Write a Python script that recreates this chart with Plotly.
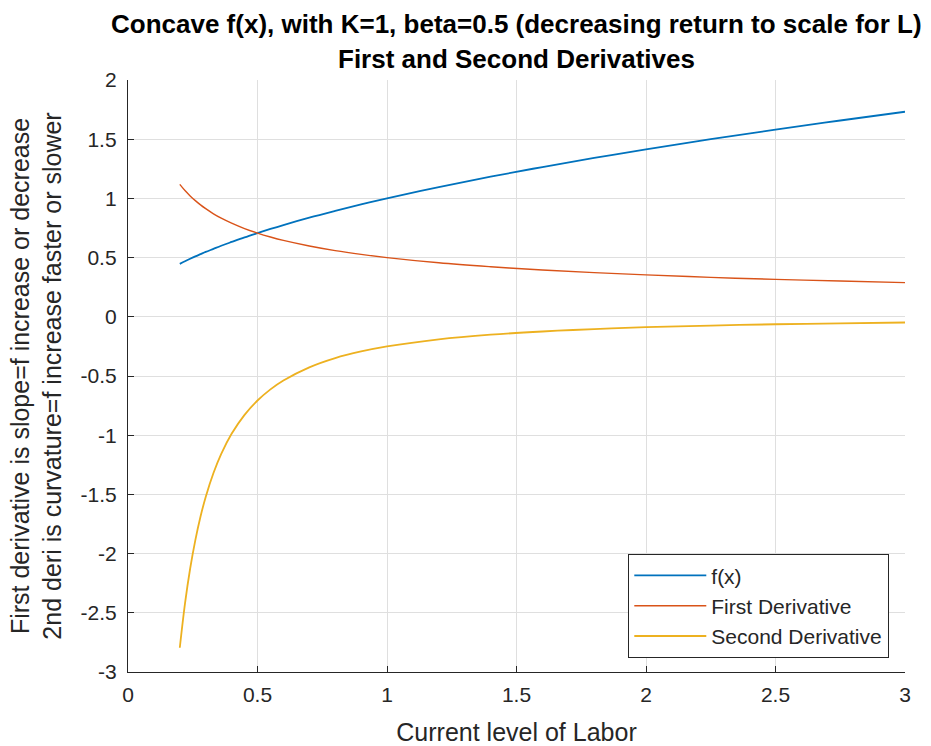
import plotly.graph_objects as go

# Labor levels and the curves sampled at them
labor = [0.2, 0.22, 0.24, 0.26, 0.28, 0.3, 0.33, 0.36, 0.4, 0.45, 0.5, 0.55, 0.6,
         0.7, 0.8, 0.9, 1.0, 1.2, 1.4, 1.6, 1.8, 2.0, 2.25, 2.5, 2.75, 3.0]
f_vals = [0.447, 0.469, 0.490, 0.510, 0.529, 0.548, 0.574, 0.600, 0.632, 0.671, 0.707, 0.742, 0.775,
          0.837, 0.894, 0.949, 1.000, 1.095, 1.183, 1.265, 1.342, 1.414, 1.500, 1.581, 1.658, 1.732]
first_deriv = [1.118, 1.066, 1.021, 0.981, 0.945, 0.913, 0.870, 0.833, 0.791, 0.745, 0.707, 0.674, 0.645,
               0.598, 0.559, 0.527, 0.500, 0.456, 0.423, 0.395, 0.373, 0.354, 0.333, 0.316, 0.302, 0.289]
second_deriv = [-2.795, -2.423, -2.126, -1.886, -1.687, -1.521, -1.319, -1.157, -0.988, -0.828, -0.707, -0.613, -0.538,
                -0.427, -0.349, -0.293, -0.250, -0.190, -0.151, -0.124, -0.104, -0.088, -0.074, -0.063, -0.055, -0.048]

x_ticks = [0, 0.5, 1, 1.5, 2, 2.5, 3]
x_tick_labels = ["0", "0.5", "1", "1.5", "2", "2.5", "3"]
y_ticks = [-3, -2.5, -2, -1.5, -1, -0.5, 0, 0.5, 1, 1.5, 2]
y_tick_labels = ["-3", "-2.5", "-2", "-1.5", "-1", "-0.5", "0", "0.5", "1", "1.5", "2"]

title_lines = ["Concave f(x), with K=1, beta=0.5 (decreasing return to scale for L)",
               "First and Second Derivatives"]

FONT = "Liberation Sans, Arial, Helvetica, sans-serif"
AX = "#262626"

fig = go.Figure()
fig.add_trace(go.Scatter(x=labor, y=f_vals, mode="lines", name="f(x)",
                         line=dict(color="#0072BD", width=1.8, shape="spline")))
fig.add_trace(go.Scatter(x=labor, y=first_deriv, mode="lines", name="First Derivative",
                         line=dict(color="#D95319", width=1.4, shape="spline")))
fig.add_trace(go.Scatter(x=labor, y=second_deriv, mode="lines", name="Second Derivative",
                         line=dict(color="#EDB120", width=1.8, shape="spline")))

# two-line bold title, centred over the axes
for text, ypos in zip(title_lines, [1.095, 1.035]):
    fig.add_annotation(text="<b>" + text + "</b>", xref="paper", yref="paper",
                       x=0.5, y=ypos, xanchor="center", yanchor="middle",
                       showarrow=False, font=dict(family=FONT, size=26, color="black"))

fig.update_layout(
    width=931, height=746,
    margin=dict(l=128, r=26, t=80, b=74),
    paper_bgcolor="white", plot_bgcolor="white",
    font=dict(family=FONT, color=AX, size=21),
    xaxis=dict(
        range=[0, 3], tickvals=x_ticks, ticktext=x_tick_labels,
        showgrid=True, gridcolor="#dfdfdf", gridwidth=1,
        showline=True, linecolor=AX, linewidth=1.3, mirror=False,
        ticks="inside", ticklen=6, tickcolor=AX, zeroline=False,
        ticklabelstandoff=4, automargin=False,
        title=dict(text="Current level of Labor", font=dict(size=25, color=AX), standoff=19),
        tickfont=dict(size=21, color=AX),
    ),
    yaxis=dict(
        range=[-3, 2], tickvals=y_ticks, ticktext=y_tick_labels,
        showgrid=True, gridcolor="#dfdfdf", gridwidth=1,
        showline=True, linecolor=AX, linewidth=1.3, mirror=False,
        ticks="inside", ticklen=6, tickcolor=AX, zeroline=False,
        ticklabelstandoff=6, automargin=False,
        title=dict(text="First derivative is slope=f increase or decrease<br>"
                        "2nd deri is curvature=f increase faster or slower",
                   font=dict(size=25, color=AX), standoff=11),
        tickfont=dict(size=21, color=AX),
    ),
    legend=dict(
        x=0.9794, xanchor="right", y=0.0237, yanchor="bottom",
        bgcolor="white", bordercolor=AX, borderwidth=1.3,
        font=dict(size=21, color=AX),
        itemwidth=72, tracegroupgap=0,
    ),
    showlegend=True,
)

fig.write_html("out.html")
